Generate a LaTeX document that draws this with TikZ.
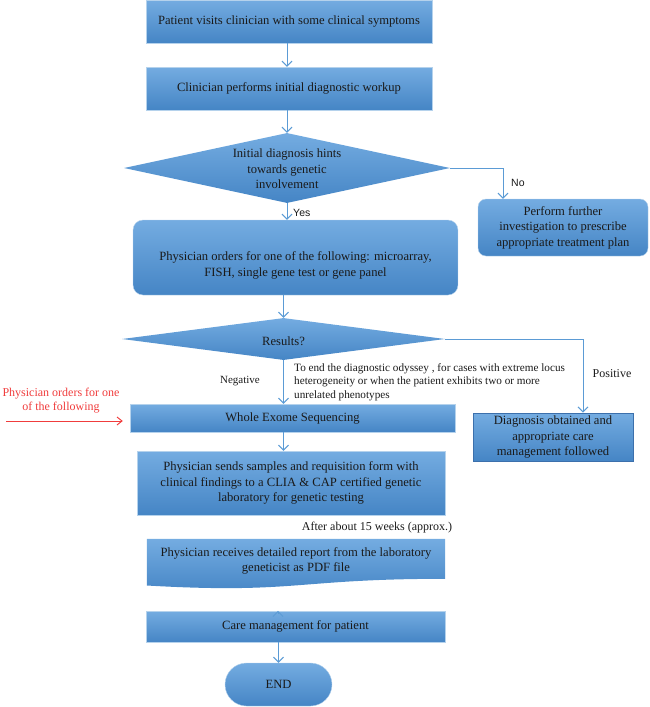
\documentclass[tikz,border=0pt]{standalone}
\usepackage{fontspec}
\setmainfont{Liberation Serif}
\newfontfamily\sansf{Liberation Sans}
\usetikzlibrary{arrows.meta,calc,shapes.geometric,backgrounds}
\definecolor{lnblue}{HTML}{5B9BD5}
\definecolor{toplt}{HTML}{74ACE1}
\definecolor{botdk}{HTML}{4585C5}
\definecolor{txt}{HTML}{1A1A1A}
\definecolor{redt}{HTML}{F03C3C}
\definecolor{posedge}{HTML}{3C70AC}
\begin{document}
\begin{tikzpicture}[x=1pt,y=-1pt,
  shade/.style={top color=toplt, bottom color=botdk},
  box/.style={rectangle, shade, draw=white!55!lnblue, line width=0.4pt, inner sep=0pt, align=center,
    font=\fontsize{12.6}{15.5}\selectfont, text=txt},
  dia/.style={diamond, shade, draw=none, inner sep=0pt},
  dtext/.style={align=center, font=\fontsize{12.6}{15.5}\selectfont, text=txt, inner sep=0pt},
  small/.style={font=\fontsize{11}{13.5}\selectfont, text=txt, inner sep=0pt},
  sanslbl/.style={font=\sansf\fontsize{10.5}{12}\selectfont, text=txt, inner sep=0pt},
  arr/.style={draw=lnblue, line width=1pt, -{Straight Barb[length=5pt,width=10pt]}},
  redarr/.style={draw=redt, line width=1pt, -{Straight Barb[length=5pt,width=8pt]}},
]
\useasboundingbox (0,0) rectangle (650,707);

\node[box, minimum width=286pt, minimum height=43pt] (b1) at (289,21.5) {Patient visits clinician with some clinical symptoms};
\node[box, minimum width=286pt, minimum height=43pt] (b2) at (289,88.5) {Clinician performs initial diagnostic workup};

\node[dia, minimum width=326pt, minimum height=70pt] (d1) at (287,168) {};
\node[dtext] (d1t) at (287,169) {Initial diagnosis hints\\towards genetic\\involvement};

\node[box, rounded corners=8pt, minimum width=170pt, minimum height=57pt] (no) at (563,227.5) {Perform further\\investigation to prescribe\\appropriate treatment plan};

\node[box, rounded corners=10pt, minimum width=325pt, minimum height=75pt, text depth=0pt] (b3) at (295.5,257.5) {\raisebox{-3pt}{\begin{tabular}{@{}c@{}}Physician orders for one of the following: microarray,\\FISH, single gene test or gene panel\end{tabular}}};

\node[dia, minimum width=323pt, minimum height=42pt] (d2) at (283.5,339) {};
\node[dtext] (d2t) at (283.5,341) {Results?};

\node[box, draw=posedge, line width=0.8pt, minimum width=160pt, minimum height=48pt] (pos) at (553,437) {Diagnosis obtained and\\appropriate care\\management followed};

\node[box, minimum width=325pt, minimum height=28pt] (wes) at (292.5,418) {Whole Exome Sequencing};

\node[box, minimum width=308pt, minimum height=64pt] (sends) at (291,483) {Physician sends samples and requisition form with\\clinical findings to a CLIA \& CAP certified genetic\\laboratory for genetic testing};

\node[dtext, minimum width=298pt, minimum height=44pt] (recv) at (296,561) {Physician receives detailed report from the laboratory\\geneticist as PDF file};
\begin{pgfonlayer}{background}
\path[shade] (recv.north west) -- (recv.north east) -- ($(recv.north east)+(0,40)$)
  .. controls ($(recv.north)+(0,40)$) and ($(recv.north)+(0,55.3)$) .. ($(recv.north west)+(0,46.7)$) -- cycle;
\end{pgfonlayer}

\node[box, minimum width=299pt, minimum height=31pt] (care) at (295.5,626.5) {Care management for patient};
\node[box, rounded corners=21.5pt, minimum width=107pt, minimum height=43pt] (endn) at (278.5,684.5) {END};

% connectors
\draw[arr] ([xshift=-2pt]b1.south) -- ([xshift=-2pt]b2.north);
\draw[arr] ([xshift=-2pt]b2.south) -- (d1.north);
\draw[arr] (d1.south) -- (d1.south |- b3.north);
\draw[arr] (d1.east) -| ([xshift=-60pt]no.north);
\draw[arr] ([xshift=-12pt]b3.south) -- (d2.north);
\draw[arr] (d2.east) -| ([xshift=30pt]pos.north);
\draw[arr] (d2.south) -- (d2.south |- wes.north);
\draw[arr] ([xshift=-9pt]wes.south) -- ([xshift=-9pt]wes.south |- sends.north);
\draw[arr] ([xshift=-18pt,yshift=-31pt]recv.south) -- ([xshift=-18pt]recv.south |- care.north);
\draw[arr] ([xshift=-17pt]care.south) -- (endn.north);
\coordinate (rs) at (6,421);
\draw[redarr, shorten >=7pt] (rs) -- (rs -| wes.west);

% labels
\node[sanslbl, anchor=west] (yes) at (293,213) {Yes};
\node[sanslbl, anchor=west] (nolbl) at (511,183) {No};
\node[small, anchor=east] (neg) at (260,381) {Negative};
\node[font=\fontsize{11.2}{13.5}\selectfont, text=txt, inner sep=0pt, anchor=west, align=left] (why) at (294,382) {To end the diagnostic odyssey , for cases with extreme locus\\heterogeneity or when the patient exhibits two or more\\unrelated phenotypes};
\node[font=\fontsize{12}{14}\selectfont, text=txt, inner sep=0pt] (posl) at (612,374) {Positive};
\node[font=\fontsize{12}{14}\selectfont, text=txt, inner sep=0pt] (after) at (377,528) {After about 15 weeks (approx.)};
\node[font=\fontsize{12}{14}\selectfont, text=redt, align=center, inner sep=0pt] (redl) at (61,401) {Physician orders for one\\of the following};
\end{tikzpicture}
\end{document}
